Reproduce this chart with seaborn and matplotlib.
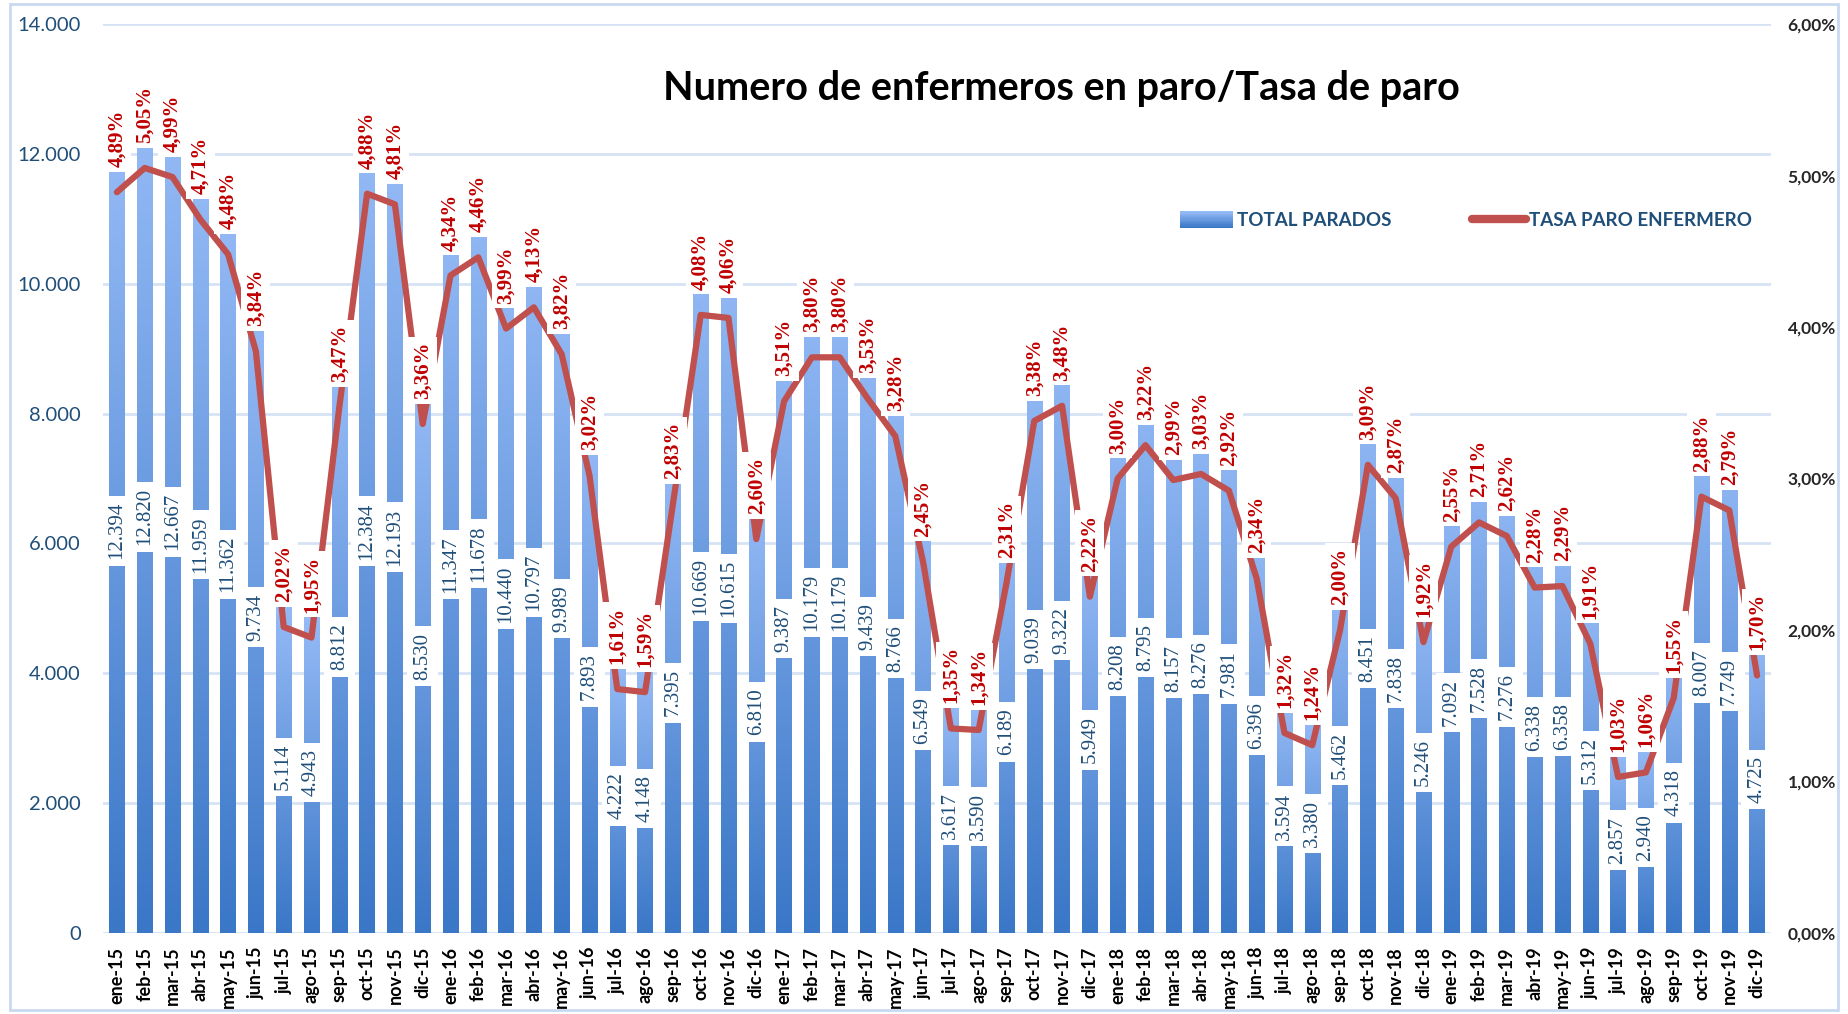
import numpy as np
import pandas as pd
import seaborn as sns
import matplotlib.pyplot as plt
from matplotlib.colors import LinearSegmentedColormap
from matplotlib.patches import Patch, Rectangle
from matplotlib.lines import Line2D
from matplotlib.legend_handler import HandlerBase
from matplotlib.ticker import FuncFormatter, MultipleLocator

# Datos
meses = [
    "ene-15", "feb-15", "mar-15", "abr-15", "may-15", "jun-15", "jul-15", "ago-15", "sep-15", "oct-15", "nov-15", "dic-15",
    "ene-16", "feb-16", "mar-16", "abr-16", "may-16", "jun-16", "jul-16", "ago-16", "sep-16", "oct-16", "nov-16", "dic-16",
    "ene-17", "feb-17", "mar-17", "abr-17", "may-17", "jun-17", "jul-17", "ago-17", "sep-17", "oct-17", "nov-17", "dic-17",
    "ene-18", "feb-18", "mar-18", "abr-18", "may-18", "jun-18", "jul-18", "ago-18", "sep-18", "oct-18", "nov-18", "dic-18",
    "ene-19", "feb-19", "mar-19", "abr-19", "may-19", "jun-19", "jul-19", "ago-19", "sep-19", "oct-19", "nov-19", "dic-19",
]
total_parados = [
    12394, 12820, 12667, 11959, 11362, 9734, 5114, 4943, 8812, 12384, 12193, 8530,
    11347, 11678, 10440, 10797, 9989, 7893, 4222, 4148, 7395, 10669, 10615, 6810,
    9387, 10179, 10179, 9439, 8766, 6549, 3617, 3590, 6189, 9039, 9322, 5949,
    8208, 8795, 8157, 8276, 7981, 6396, 3594, 3380, 5462, 8451, 7838, 5246,
    7092, 7528, 7276, 6338, 6358, 5312, 2857, 2940, 4318, 8007, 7749, 4725,
]
tasa_paro = [
    4.89, 5.05, 4.99, 4.71, 4.48, 3.84, 2.02, 1.95, 3.47, 4.88, 4.81, 3.36,
    4.34, 4.46, 3.99, 4.13, 3.82, 3.02, 1.61, 1.59, 2.83, 4.08, 4.06, 2.60,
    3.51, 3.80, 3.80, 3.53, 3.28, 2.45, 1.35, 1.34, 2.31, 3.38, 3.48, 2.22,
    3.00, 3.22, 2.99, 3.03, 2.92, 2.34, 1.32, 1.24, 2.00, 3.09, 2.87, 1.92,
    2.55, 2.71, 2.62, 2.28, 2.29, 1.91, 1.03, 1.06, 1.55, 2.88, 2.79, 1.70,
]

df = pd.DataFrame({"Mes": meses, "Parados": total_parados, "Tasa": np.array(tasa_paro) / 100})
df["pos"] = np.arange(len(df))

AZUL_TXT = "#1F4E79"
ROJO_LINEA = "#C0504D"
ROJO_TXT = "#C00000"
GRID = "#D6E3F5"
SANS = ["Lato", "DejaVu Sans"]
SERIF = ["Liberation Serif", "DejaVu Serif"]

sns.set_style("white")
plt.rcParams["font.family"] = SANS

cmap = LinearSegmentedColormap.from_list("grad", ["#3A77C7", "#97BCF7"])


class HandlerGradiente(HandlerBase):
    # rectángulo de leyenda con degradado vertical
    def create_artists(self, legend, orig_handle, xdescent, ydescent, width, height, fontsize, trans):
        n = 14
        arts = []
        for k in range(n):
            arts.append(Rectangle((-xdescent, -ydescent + k * height / n), width, height / n * 1.05,
                                  facecolor=cmap(k / (n - 1)), edgecolor="none", transform=trans))
        return arts


fig = plt.figure(figsize=(18.49, 10.14), dpi=100)
ax = fig.add_axes([0.0557, 0.0799, 0.9578 - 0.0557, 0.9763 - 0.0799])

# Barras
sns.barplot(data=df, x="Mes", y="Parados", ax=ax, width=0.55, color="#6A9BE0", saturation=1)

# Degradado en cada barra
grad = np.linspace(0, 1, 256).reshape(-1, 1)
for p in ax.patches:
    x0, w, h = p.get_x(), p.get_width(), p.get_height()
    im = ax.imshow(grad, extent=[x0, x0 + w, 0, h], origin="lower", aspect="auto",
                   cmap=cmap, zorder=2)
    im.set_clip_path(p)
    p.set_facecolor("none")
    p.set_edgecolor("none")

ax.set_xlim(-0.5, len(meses) - 0.5)
ax.set_ylim(0, 14000)
ax.yaxis.set_major_locator(MultipleLocator(2000))
ax.yaxis.set_major_formatter(FuncFormatter(lambda v, _: f"{int(v):,}".replace(",", ".")))
ax.grid(axis="y", color=GRID, linewidth=2)
ax.set_axisbelow(True)
for s in ax.spines.values():
    s.set_visible(False)
ax.set_xlabel("")
ax.set_ylabel("")
ax.tick_params(axis="y", length=0, pad=16, labelsize=14.5, labelcolor=AZUL_TXT)
ax.tick_params(axis="x", length=0, pad=10)
ax.set_xticks(df["pos"])
ax.set_xticklabels(meses, rotation=90, fontsize=13, fontweight="bold", color="black")

# Etiquetas de valores en el centro de las barras
for i, v in zip(df["pos"], total_parados):
    ax.text(i, v / 2, f"{v:,}".replace(",", "."), rotation=90, ha="center", va="center",
            fontsize=15, family=SERIF, color=AZUL_TXT, zorder=5,
            bbox=dict(boxstyle="square,pad=0.3", fc="white", ec="none"))

# Línea de tasa en eje secundario
ax2 = ax.twinx()
sns.lineplot(data=df, x="pos", y="Tasa", ax=ax2, color=ROJO_LINEA, linewidth=4.5,
             solid_joinstyle="round", solid_capstyle="round", zorder=3)
ax2.set_ylim(0, 0.06)
ax2.set_xlim(-0.5, len(meses) - 0.5)
ax2.yaxis.set_major_locator(MultipleLocator(0.01))
ax2.yaxis.set_major_formatter(FuncFormatter(lambda v, _: f"{v * 100:.2f}%".replace(".", ",")))
ax2.tick_params(axis="y", length=0, pad=12, labelsize=12.5)
for lab in ax2.get_yticklabels():
    lab.set_fontweight("bold")
for s in ax2.spines.values():
    s.set_visible(False)
ax2.set_xlabel("")
ax2.set_ylabel("")

for i, t in zip(df["pos"], tasa_paro):
    ax2.annotate(f"{t:.2f}%".replace(".", ","), (i, t / 100), xytext=(0, 18),
                 textcoords="offset points", rotation=90, ha="center", va="bottom",
                 fontsize=15, fontweight="bold", family=SERIF, color=ROJO_TXT, zorder=6,
                 bbox=dict(boxstyle="square,pad=0.22", fc="white", ec="none"))

# Título
fig.text(0.574, 0.913, "Numero de enfermeros en paro/Tasa de paro", ha="center", va="center",
         fontsize=28.5, fontweight="bold", color="black")

# Leyenda
handles = [Patch(facecolor="#6A9BE0", edgecolor="none"),
           Line2D([0], [0], color=ROJO_LINEA, linewidth=6, solid_capstyle="round")]
leg = ax2.legend(handles, ["TOTAL PARADOS", "TASA PARO ENFERMERO"], loc="center left",
                 bbox_to_anchor=(0.629, 0.783), bbox_transform=fig.transFigure, ncol=2,
                 frameon=False, handlelength=2.85, handleheight=1.0, handletextpad=0.2,
                 columnspacing=4.3, prop={"family": SANS, "weight": "bold", "size": 13.5},
                 handler_map={Patch: HandlerGradiente()})
for txt in leg.get_texts():
    txt.set_color(AZUL_TXT)

# Marco del gráfico
fig.patches.append(Rectangle((10 / 1849, 4 / 1014), 1828 / 1849, 1006 / 1014,
                             transform=fig.transFigure, fill=False, edgecolor="#C9D9F0",
                             linewidth=2))

fig.savefig("out.png", dpi=100)
